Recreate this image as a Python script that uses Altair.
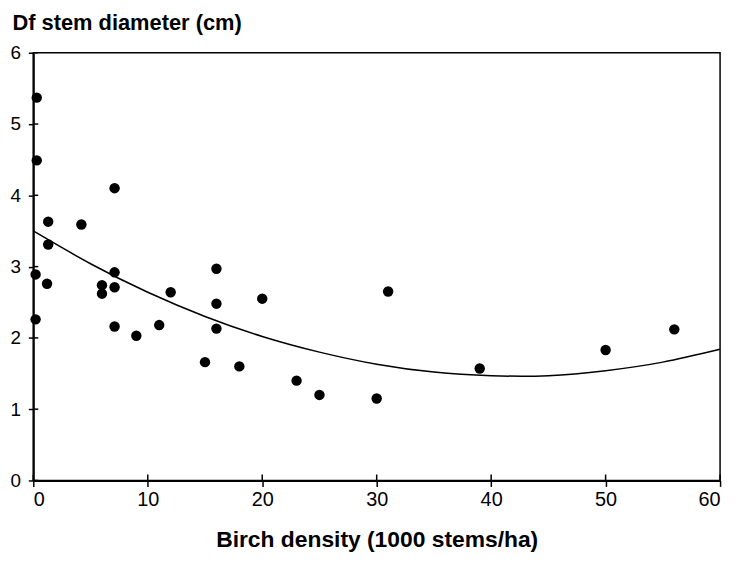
import altair as alt
import pandas as pd

# Observed points
density = [0.3, 0.3, 7.1, 1.3, 4.2, 1.3, 0.2, 7.1, 16.0, 1.2, 6.0, 6.0, 7.1, 0.2, 7.1,
           9.0, 11.0, 12.0, 16.0, 16.0, 15.0, 18.0, 20.0, 23.0, 25.0, 30.0, 31.0, 39.0, 50.0, 56.0]
diameter = [5.37, 4.49, 4.10, 3.63, 3.59, 3.31, 2.89, 2.92, 2.97, 2.76, 2.74, 2.62, 2.71, 2.26, 2.16,
            2.03, 2.18, 2.64, 2.48, 2.13, 1.66, 1.60, 2.55, 1.40, 1.20, 1.15, 2.65, 1.57, 1.83, 2.12]

# Fitted curve
curve_x = [0, 5, 10, 15, 20, 25, 30, 35, 40, 45, 50, 55, 60]
curve_y = [3.50, 3.04, 2.64, 2.30, 2.02, 1.80, 1.63, 1.52, 1.47, 1.47, 1.54, 1.66, 1.84]

x_ticks = [0, 10, 20, 30, 40, 50, 60]
y_ticks = [0, 1, 2, 3, 4, 5, 6]

pts = pd.DataFrame({"x": density, "y": diameter})
crv = pd.DataFrame({"x": curve_x, "y": curve_y})
xt = pd.DataFrame({"t": x_ticks})
yt = pd.DataFrame({"t": y_ticks})

FONT = "Liberation Sans"
W, H = 692, 431

xscale = alt.Scale(domain=[0, 60], nice=False, zero=False)
yscale = alt.Scale(domain=[0, 6], nice=False, zero=False)

xaxis = alt.Axis(values=x_ticks, format="d", title="Birch density (1000 stems/ha)", grid=False,
                 domainColor="black", domainWidth=2, tickColor="black", tickWidth=1.5, tickSize=6,
                 labelFont=FONT, labelFontSize=20, labelColor="black", labelPadding=3,
                 titleFont=FONT, titleFontSize=23, titleFontWeight="bold", titleColor="black",
                 titleY=67, titleBaseline="alphabetic")
yaxis = alt.Axis(values=y_ticks, format="d", title="Df stem diameter (cm)", grid=False,
                 domainColor="black", domainWidth=2, tickColor="black", tickWidth=1.5, tickSize=5,
                 labelFont=FONT, labelFontSize=19, labelColor="black", labelPadding=8,
                 titleFont=FONT, titleFontSize=22, titleFontWeight="bold", titleColor="black",
                 titleAngle=0, titleAlign="left", titleBaseline="alphabetic",
                 titleX=-21.5, titleY=-23)

points = alt.Chart(pts).mark_circle(size=110, color="black", opacity=1).encode(
    x=alt.X("x:Q", scale=xscale, axis=xaxis),
    y=alt.Y("y:Q", scale=yscale, axis=yaxis),
)

line = alt.Chart(crv).mark_line(color="black", strokeWidth=1.5, interpolate="natural").encode(
    x=alt.X("x:Q", scale=xscale),
    y=alt.Y("y:Q", scale=yscale),
)

# inward halves of the crossing tick marks
ytick_in = alt.Chart(yt).mark_rule(color="black", strokeWidth=1.5).encode(
    y=alt.Y("t:Q", scale=yscale), x=alt.value(0), x2=alt.value(5)
)
xtick_in = alt.Chart(xt).mark_rule(color="black", strokeWidth=1.5).encode(
    x=alt.X("t:Q", scale=xscale), y=alt.value(H), y2=alt.value(H - 6)
)

chart = alt.layer(line, ytick_in, xtick_in, points).properties(
    width=W, height=H,
    autosize=alt.AutoSizeParams(type="none"),
    padding={"left": 25.5, "top": 43, "right": 10, "bottom": 70},
    background="white",
).configure_view(stroke="black", strokeWidth=1.5)

chart.save("out.html", embed_options={"renderer": "svg", "actions": False})
